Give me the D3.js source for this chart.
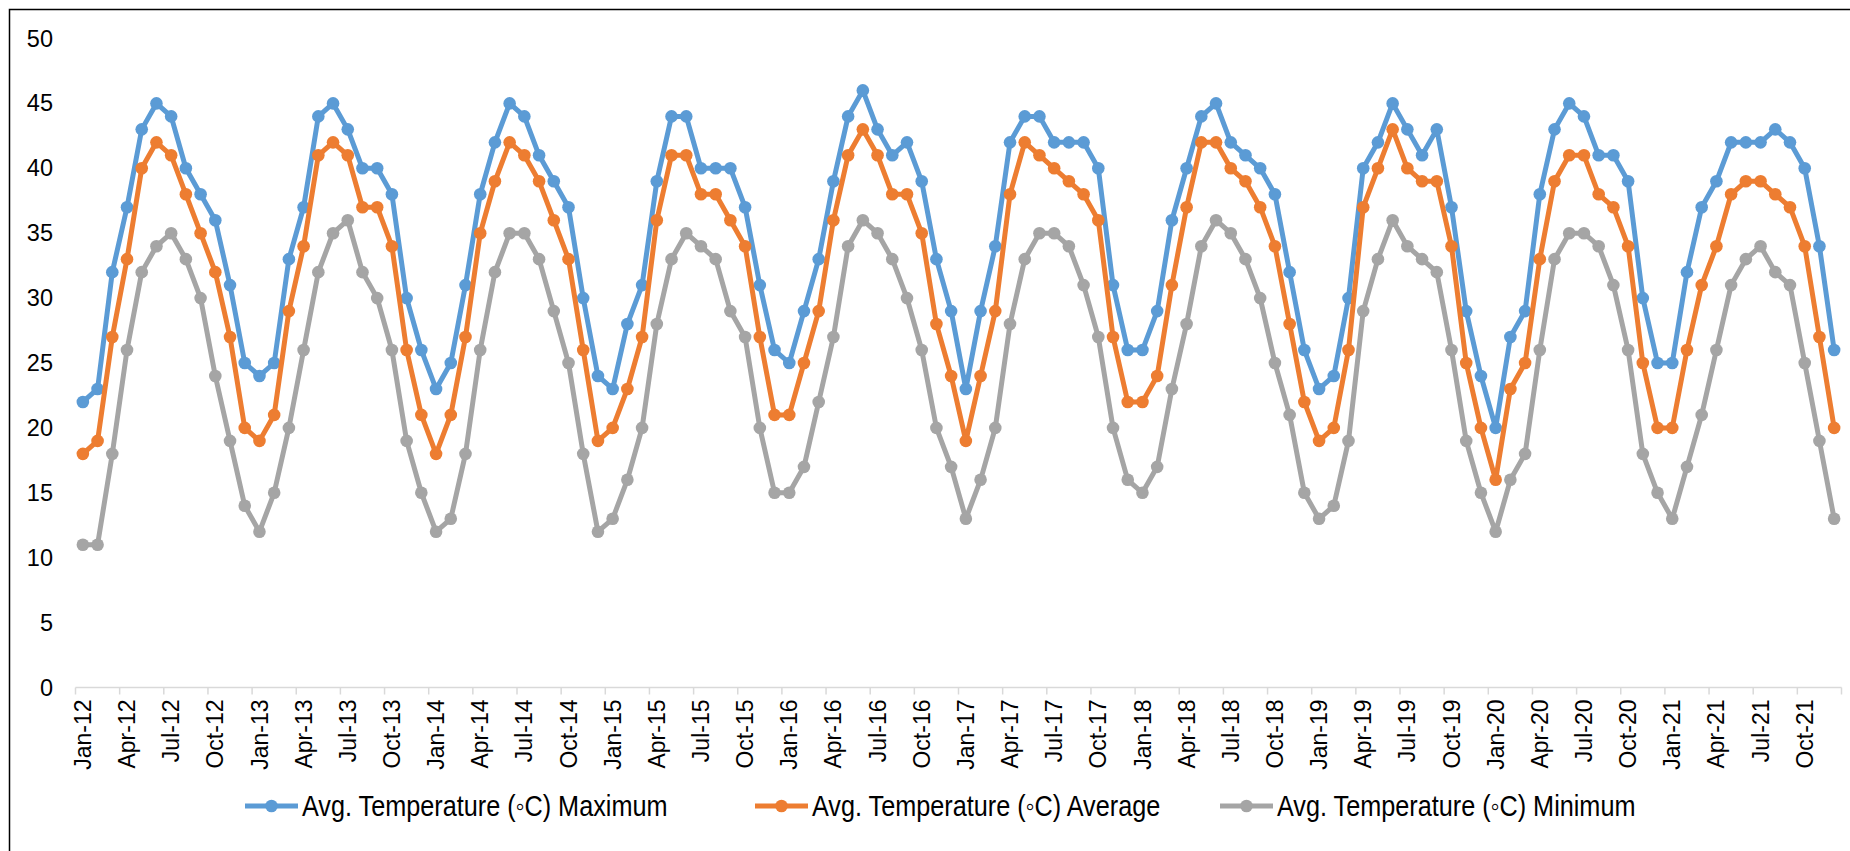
<!DOCTYPE html>
<html>
<head>
<meta charset="utf-8">
<script src="https://cdn.jsdelivr.net/npm/d3@7"></script>
<style>
  html, body { margin: 0; padding: 0; background: #fff; }
  svg { display: block; font-family: "Liberation Sans", Arial, sans-serif; }
</style>
</head>
<body>
<div id="chart"></div>
<script>
// month labels, Jan-12 .. Dec-21
var months = ["Jan","Feb","Mar","Apr","May","Jun","Jul","Aug","Sep","Oct","Nov","Dec"];
var years = ["12","13","14","15","16","17","18","19","20","21"];
var categories = [];
for (let yy of years) {
    for (let mm of months) categories.push(mm + "-" + yy);
}
var tickLabels = categories.filter(function(d, i) { return i % 3 == 0; });
var yTicks = [0, 5, 10, 15, 20, 25, 30, 35, 40, 45, 50];

var tMax = [
    22,23,32,37,43,45,44,40,38,36,31,25,
    24,25,33,37,44,45,43,40,40,38,30,26,
    23,25,31,38,42,45,44,41,39,37,30,24,
    23,28,31,39,44,44,40,40,40,37,31,26,
    25,29,33,39,44,46,43,41,42,39,33,29,
    23,29,34,42,44,44,42,42,42,40,31,26,
    26,29,36,40,44,45,42,41,40,38,32,26,
    23,24,30,40,42,45,43,41,43,37,29,24,
    20,27,29,38,43,45,44,41,41,39,30,25,
    25,32,37,39,42,42,42,43,42,40,34,26
];
var tAvg = [
    18,19,27,33,40,42,41,38,35,32,27,20,
    19,21,29,34,41,42,41,37,37,34,26,21,
    18,21,27,35,39,42,41,39,36,33,26,19,
    20,23,27,36,41,41,38,38,36,34,27,21,
    21,25,29,36,41,43,41,38,38,35,28,24,
    19,24,29,38,42,41,40,39,38,36,27,22,
    22,24,31,37,42,42,40,39,37,34,28,22,
    19,20,26,37,40,43,40,39,39,34,25,20,
    16,23,25,33,39,41,41,38,37,34,25,20,
    20,26,31,34,38,39,39,38,37,34,27,20
];
var tMin = [
    11,11,18,26,32,34,35,33,30,24,19,14,
    12,15,20,26,32,35,36,32,30,26,19,15,
    12,13,18,26,32,35,35,33,29,25,18,12,
    13,16,20,28,33,35,34,33,29,27,20,15,
    15,17,22,27,34,36,35,33,30,26,20,17,
    13,16,20,28,33,35,35,34,31,27,20,16,
    15,17,23,28,34,36,35,33,30,25,21,15,
    13,14,19,29,33,36,34,33,32,26,19,15,
    12,16,18,26,33,35,35,34,31,26,18,15,
    13,17,21,26,31,33,34,32,31,25,19,13
];

var seriesNames = ["Avg. Temperature (\u25E6C) Maximum", "Avg. Temperature (\u25E6C) Average", "Avg. Temperature (\u25E6C) Minimum"];
var seriesColors = ["#5B9BD5", "#ED7D31", "#A5A5A5"];
var seriesData = [tMax, tAvg, tMin];

var width = 1850, height = 851;
var svg = d3.select("#chart").append("svg").attr("width", width).attr("height", height);

// chart border
svg.append("rect")
    .attr("x", 9.5).attr("y", 9.5)
    .attr("width", width).attr("height", height)
    .style("fill", "white").style("stroke", "black").style("stroke-width", 1.5);

var x = d3.scaleBand().domain(categories).range([75.5, 1841.5]);
var y = d3.scaleLinear().domain([0, 50]).range([687.5, 38.5]);
var cx = function(i) { return x(categories[i]) + x.bandwidth() / 2; };

// y axis, labels only
var yAxis = svg.append("g")
    .attr("transform", "translate(75,0)")
    .call(d3.axisLeft(y).tickValues(yTicks).tickSize(0).tickPadding(22));
yAxis.select(".domain").remove();
yAxis.selectAll("text")
    .style("font-size", "23.5px").style("fill", "#000")
    .style("font-family", "'Liberation Sans', Arial, sans-serif");

// x axis line and tick marks (every 3 months, between categories)
var xg = svg.append("g");
xg.append("line")
    .attr("x1", x.range()[0]).attr("x2", x.range()[1])
    .attr("y1", y(0)).attr("y2", y(0))
    .style("stroke", "#d9d9d9").style("stroke-width", 1.5);
var bounds = d3.range(0, categories.length + 1, 3);
xg.selectAll(".tk").data(bounds).enter().append("line")
    .attr("class", "tk")
    .attr("x1", function(d) { return x.range()[0] + d * x.step(); })
    .attr("x2", function(d) { return x.range()[0] + d * x.step(); })
    .attr("y1", y(0)).attr("y2", y(0) + 7)
    .style("stroke", "#d9d9d9").style("stroke-width", 1.5);

xg.selectAll(".lbl").data(tickLabels).enter().append("text")
    .attr("class", "lbl")
    .attr("transform", function(d) {
        return "translate(" + (x(d) + x.bandwidth() / 2) + "," + (y(0) + 12) + ") rotate(-90)";
    })
    .attr("dy", "0.35em")
    .attr("text-anchor", "end")
    .style("font-size", "23px")
    .style("fill", "#000")
    .text(function(d) { return d; });

// lines and markers
var line = d3.line()
    .x(function(d, i) { return cx(i); })
    .y(function(d) { return y(d); });

for (var s = 0; s < seriesData.length; s++) {
    var g = svg.append("g");
    g.append("path")
        .datum(seriesData[s])
        .attr("d", line)
        .style("fill", "none")
        .style("stroke", seriesColors[s])
        .style("stroke-width", 5)
        .style("stroke-linejoin", "round");
    g.selectAll("circle").data(seriesData[s]).enter().append("circle")
        .attr("cx", function(d, i) { return cx(i); })
        .attr("cy", function(d) { return y(d); })
        .attr("r", 6.3)
        .style("fill", seriesColors[s]);
}

// legend
var legendX = [245, 755, 1220];
var legendY = 806;
for (var k = 0; k < seriesNames.length; k++) {
    var lg = svg.append("g").attr("transform", "translate(" + legendX[k] + "," + legendY + ")");
    lg.append("line")
        .attr("x1", 0).attr("x2", 53).attr("y1", 0).attr("y2", 0)
        .style("stroke", seriesColors[k]).style("stroke-width", 5);
    lg.append("circle").attr("cx", 26.5).attr("cy", 0).attr("r", 6.3).style("fill", seriesColors[k]);
    lg.append("text")
        .attr("transform", "translate(57,0) scale(0.87,1)")
        .attr("dy", "0.35em")
        .style("font-size", "29px")
        .style("fill", "#000")
        .text(seriesNames[k]);
}
</script>
</body>
</html>
